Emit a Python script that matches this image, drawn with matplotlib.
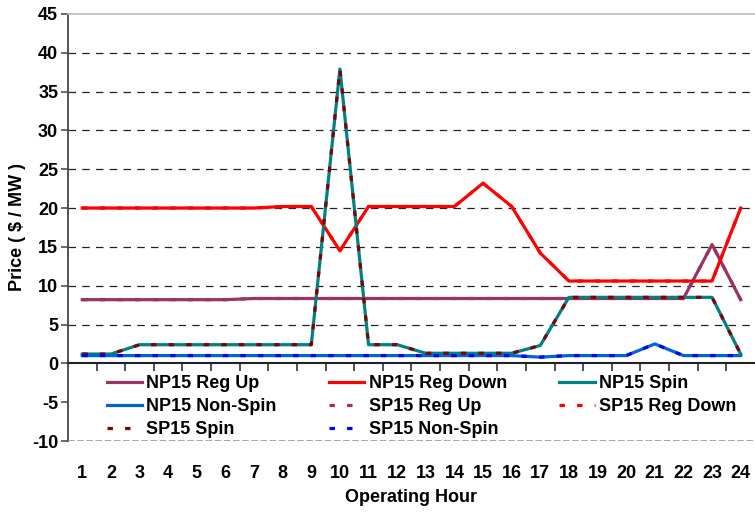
import numpy as np
import matplotlib.pyplot as plt

hours = list(range(1, 25))

np15_reg_up = [8.2, 8.2, 8.2, 8.2, 8.2, 8.2, 8.35, 8.35, 8.35, 8.35, 8.35, 8.35,
               8.35, 8.35, 8.35, 8.35, 8.35, 8.35, 8.35, 8.35, 8.35, 8.35, 15.3, 8.2]
np15_reg_down = [20.0, 20.0, 20.0, 20.0, 20.0, 20.0, 20.0, 20.2, 20.2, 14.5, 20.2, 20.2,
                 20.2, 20.2, 23.2, 20.2, 14.2, 10.6, 10.6, 10.6, 10.6, 10.6, 10.6, 20.0]
np15_spin = [1.2, 1.2, 2.4, 2.4, 2.4, 2.4, 2.4, 2.4, 2.4, 37.9, 2.4, 2.4,
             1.3, 1.3, 1.3, 1.3, 2.3, 8.5, 8.5, 8.5, 8.5, 8.5, 8.5, 1.2]
np15_non_spin = [1.0, 1.0, 1.0, 1.0, 1.0, 1.0, 1.0, 1.0, 1.0, 1.0, 1.0, 1.0,
                 1.0, 1.0, 1.0, 1.0, 0.8, 1.0, 1.0, 1.0, 2.5, 1.0, 1.0, 1.0]
sp15_reg_up = [8.2, 8.2, 8.2, 8.2, 8.2, 8.2, 8.35, 8.35, 8.35, 8.35, 8.35, 8.35,
               8.35, 8.35, 8.35, 8.35, 8.35, 8.35, 8.35, 8.35, 8.35, 8.35, 15.3, 8.2]
sp15_reg_down = [20.0, 20.0, 20.0, 20.0, 20.0, 20.0, 20.0, 20.2, 20.2, 14.5, 20.2, 20.2,
                 20.2, 20.2, 23.2, 20.2, 14.2, 10.6, 10.6, 10.6, 10.6, 10.6, 10.6, 20.0]
sp15_spin = [1.2, 1.2, 2.4, 2.4, 2.4, 2.4, 2.4, 2.4, 2.4, 37.9, 2.4, 2.4,
             1.3, 1.3, 1.3, 1.3, 2.3, 8.5, 8.5, 8.5, 8.5, 8.5, 8.5, 1.2]
sp15_non_spin = [1.0, 1.0, 1.0, 1.0, 1.0, 1.0, 1.0, 1.0, 1.0, 1.0, 1.0, 1.0,
                 1.0, 1.0, 1.0, 1.0, 0.8, 1.0, 1.0, 1.0, 2.5, 1.0, 1.0, 1.0]

y_ticks = list(range(-10, 50, 5))

plt.rcParams['font.family'] = ['Liberation Sans', 'DejaVu Sans']

fig = plt.figure(figsize=(7.55, 5.14), dpi=100)
ax = fig.add_axes([0.090, 0.142, 0.910, 0.831])

# series, drawn in legend order (dotted ones end up on top)
dot = (0, (1.7, 3.8))
series = [
    ('NP15 Reg Up', np15_reg_up, '#993366', '-'),
    ('NP15 Reg Down', np15_reg_down, '#ff0000', '-'),
    ('NP15 Spin', np15_spin, '#008080', '-'),
    ('NP15 Non-Spin', np15_non_spin, '#0066cc', '-'),
    ('SP15 Reg Up', sp15_reg_up, '#993366', dot),
    ('SP15 Reg Down', sp15_reg_down, '#ff0000', dot),
    ('SP15 Spin', sp15_spin, '#800000', dot),
    ('SP15 Non-Spin', sp15_non_spin, '#0000ff', dot),
]
handles = []
for name, vals, col, ls in series:
    h, = ax.plot(hours, vals, color=col, linestyle=ls, lw=2.3,
                 dash_capstyle='butt', label=name, zorder=3)
    handles.append(h)

ax.set_xlim(0.5, 24.5)
ax.set_ylim(-10, 45)

# gridlines
for v in y_ticks:
    if 0 < v < 45:
        ax.axhline(v, color='#222222', lw=0.9, ls=(0, (6, 5)), zorder=1)
ax.axhline(-10, color='#999999', lw=1.2, ls=(0, (4, 1.5)), zorder=6)

ax.spines['right'].set_visible(False)
ax.spines['top'].set_color('#bbbbbb')
ax.spines['top'].set_linewidth(1.2)
ax.spines['left'].set_color('#444444')
ax.spines['left'].set_linewidth(1.3)
ax.spines['bottom'].set_position(('data', 0))
ax.spines['bottom'].set_color('#222222')
ax.spines['bottom'].set_linewidth(1.5)

ax.set_yticks(y_ticks)
ax.set_yticklabels([str(v) for v in y_ticks], fontsize=13, fontweight='bold')
ax.tick_params(axis='y', direction='out', length=5, width=1.1, color='#444444', pad=2)

ax.set_xticks(hours)
ax.set_xticklabels([str(h) for h in hours], fontsize=13, fontweight='bold')
ax.set_xticks(np.array(hours[:-1]) + 0.5, minor=True)
ax.tick_params(axis='x', which='major', length=0, pad=73)
ax.tick_params(axis='x', which='minor', direction='out', length=6, width=1.1,
               color='#222222')

ax.set_xlabel('Operating Hour', fontsize=13, fontweight='bold', labelpad=5)
ax.set_ylabel('Price ( $ / MW )', fontsize=13, fontweight='bold', labelpad=4)

order = [0, 3, 6, 1, 4, 7, 2, 5]
leg = ax.legend([handles[i] for i in order], [series[i][0] for i in order],
                ncol=3, loc='upper left', bbox_to_anchor=(0.051, 0.162),
                frameon=True, fontsize=13, handlelength=1.95, handletextpad=0.25,
                columnspacing=2.9, labelspacing=0.33, borderpad=0.2,
                borderaxespad=0)
for t in leg.get_texts():
    t.set_fontweight('bold')
leg.get_frame().set_facecolor('white')
leg.get_frame().set_edgecolor('white')
leg.set_zorder(5)

fig.savefig('out.png', dpi=100)
